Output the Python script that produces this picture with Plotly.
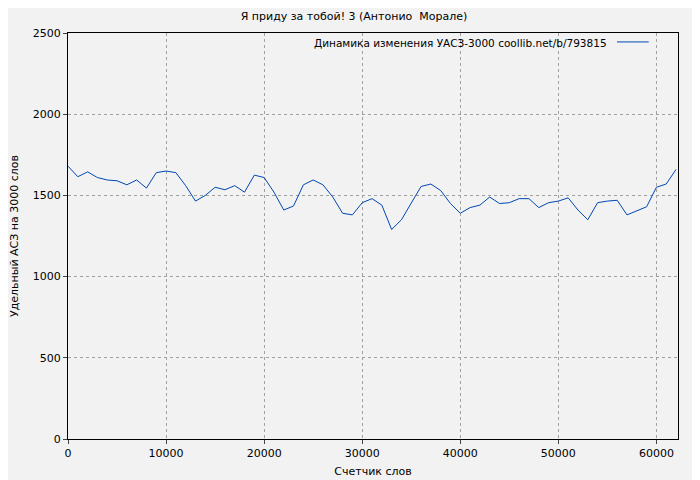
import plotly.graph_objects as go

words = list(range(0, 63000, 1000))
values = [1680,1615,1645,1610,1595,1590,1565,1595,1545,1640,1650,1640,1560,1465,1500,1550,1535,1560,1520,1625,
          1610,1520,1410,1435,1565,1595,1565,1490,1390,1380,1455,1480,1440,1290,1350,1450,1555,1570,1530,1450,
          1390,1425,1440,1490,1450,1455,1480,1480,1425,1455,1465,1485,1410,1350,1455,1465,1470,1380,1405,1430,
          1550,1570,1660]
legend_text = "Динамика изменения УАСЗ-3000 coollib.net/b/793815"

fig = go.Figure(go.Scatter(x=words, y=values, mode="lines", line=dict(color="#0047b3", width=1),
                           name=legend_text, showlegend=False))
ax = dict(showline=True, linecolor="black", linewidth=1, mirror=True, ticks="outside", ticklen=4,
          gridcolor="#a0a0a0", griddash="dot", gridwidth=1, zeroline=False, automargin=False,
          tickformat="d", tickfont=dict(size=11, color="black"), title_font=dict(size=11, color="black"))
fig.update_layout(
    width=692, height=472, paper_bgcolor="#f2f2f2", plot_bgcolor="#f2f2f2",
    font=dict(family="DejaVu Sans", size=11, color="black"),
    margin=dict(l=60, r=22, t=25, b=41),
    title=dict(text="Я приду за тобой! 3 (Антонио  Морале)", x=0.5, xanchor="center",
               y=0.99, yanchor="top", font=dict(size=11)),
    showlegend=False,
)
fig.add_annotation(xref="paper", yref="paper", x=0.887, y=0.995, xanchor="right", yanchor="top",
                   text=legend_text, showarrow=False, font=dict(size=10.5))
fig.add_shape(type="line", xref="paper", yref="paper", x0=0.9, x1=0.952, y0=0.978, y1=0.978,
              line=dict(color="#0047b3", width=1))
fig.update_xaxes(ax, range=[0, 62200], dtick=10000, title_text="Счетчик слов", title_standoff=8)
fig.update_yaxes(ax, range=[0, 2500], dtick=500, title_text="Удельный АСЗ на 3000 слов", title_standoff=14)
fig.write_html("out.html")
